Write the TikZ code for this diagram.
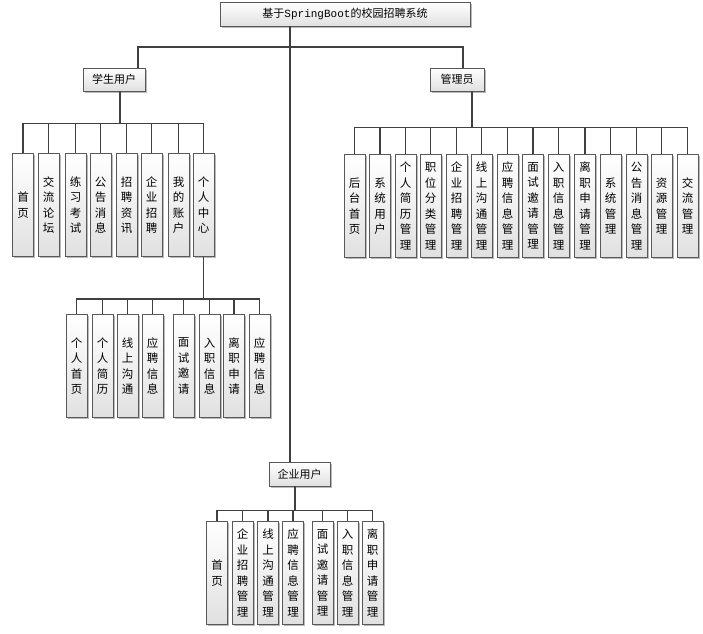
\documentclass[tikz,border=0pt]{standalone}
\usepackage{fontspec}
\setmainfont{Noto Sans CJK SC}
\newfontfamily\latinfont{Liberation Mono}
\XeTeXlinebreaklocale "zh"
\XeTeXlinebreakskip=0pt plus 1pt
\usetikzlibrary{shadows}

\begin{document}
\begin{tikzpicture}[x=1pt, y=-1pt,
	box/.style={draw=black!65, line width=0.9pt, top color=white, bottom color=black!12, inner sep=0pt, align=center, font=\fontsize{11}{13}\selectfont, drop shadow={shadow xshift=1.5pt, shadow yshift=-1.5pt, fill=black!45, opacity=0.6}},
	leaf/.style={box, minimum width=21pt, minimum height=103pt, text width=12pt, font=\fontsize{11.5}{15.5}\selectfont},
	link/.style={draw=black!75, line width=1.1pt}]
	\useasboundingbox (0,0) rectangle (703,633);
	\node[box, minimum width=250pt, minimum height=24pt] (root) at (345,14) {基于{\latinfont SpringBoot}的校园招聘系统};
	\node[box, minimum width=62pt, minimum height=23pt] (stu) at (114,79.5) {学生用户};
	\node[box, minimum width=54pt, minimum height=23pt] (adm) at (457,79.5) {管理员};
	\node[box, minimum width=61pt, minimum height=24pt] (ent) at (299.5,474) {企业用户};
	\coordinate (trunk) at (290,47);
	\draw[link] (root.south -| trunk) -- (ent.north -| trunk);
	\draw[link] ([xshift=24pt]stu.north) |- (trunk) -| ([xshift=6pt]adm.north);
	
	\foreach \x/\t [count=\i] in {23/首页, 48.5/交流论坛, 75.5/练习考试, 100.5/公告消息, 126.5/招聘资讯, 151.5/企业招聘, 178.5/我的账户, 203.5/个人中心} {
		\node[leaf] (s\i) at (\x,205) {\t};
		\draw[link] ([xshift=6pt]stu.south) -- ++(0,32) -| (s\i.north);
	}
	\foreach \x/\t [count=\i] in {76.5/个人首页, 102.5/个人简历, 127.5/线上沟通, 152.5/应聘信息, 183.5/面试邀请, 209.5/入职信息, 234/离职申请, 259.5/应聘信息} {
		\node[leaf] (p\i) at (\x,366) {\t};
		\draw[link] (s8.south) -- ++(0,42) -| (p\i.north);
	}
	\foreach \x/\t [count=\i] in {354.5/后台首页, 380/系统用户, 405.5/个人简历管理, 430.5/职位分类管理, 456.5/企业招聘管理, 481.5/线上沟通管理, 507.5/应聘信息管理, 533/面试邀请管理, 558.5/入职信息管理, 585/离职申请管理, 610.5/系统管理, 636.5/公告消息管理, 661.5/资源管理, 687.5/交流管理} {
		\node[leaf] (a\i) at (\x,206) {\t};
		\draw[link] ([xshift=15pt]adm.south) -- ++(0,36) -| (a\i.north);
	}
	\foreach \x/\t [count=\i] in {217/首页, 242.5/企业招聘管理, 268/线上沟通管理, 293/应聘信息管理, 322.5/面试邀请管理, 347.5/入职信息管理, 372.5/离职申请管理} {
		\node[leaf] (e\i) at (\x,573) {\t};
		\draw[link] ([xshift=-4.5pt]ent.south) -- ++(0,24) -| (e\i.north);
	}
\end{tikzpicture}
\end{document}
